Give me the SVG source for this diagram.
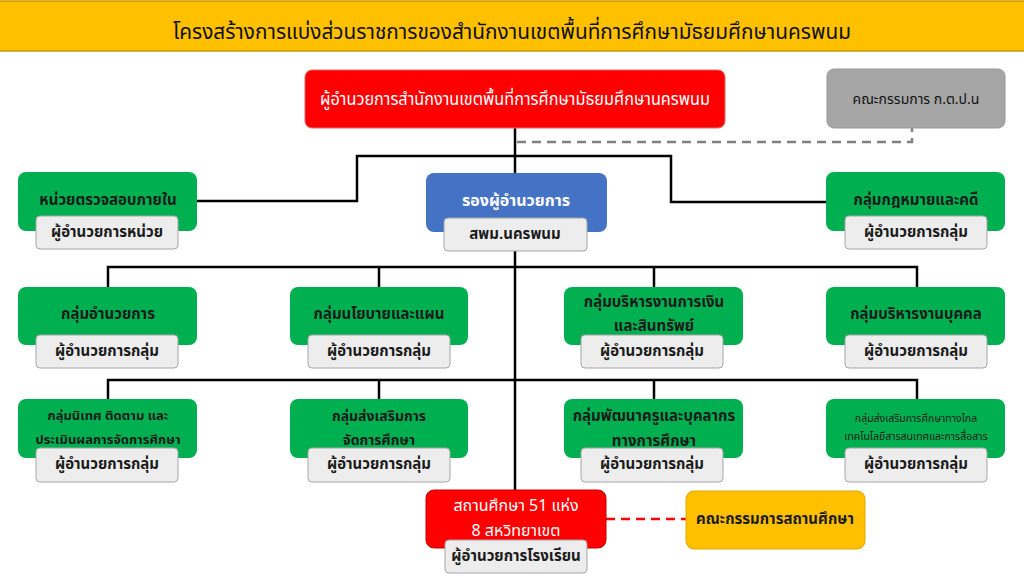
<svg xmlns="http://www.w3.org/2000/svg" width="1024" height="576" viewBox="0 0 1024 576">
<style>
text{font-family:"Noto Sans Thai","Tahoma","Noto Sans","DejaVu Sans",sans-serif;text-anchor:middle;dominant-baseline:central}
.g{fill:#00B050}
.sub{fill:#EDEDED;stroke:#A6A6A6;stroke-width:1}
.gt{fill:#1b1b1b;font-size:15px;font-weight:bold}
.st{fill:#1b1b1b;font-size:15px;font-weight:bold}
.wt{fill:#ffffff;font-size:16px;font-weight:bold}
.ln{stroke:#000;stroke-width:2.5;fill:none}
</style>
<rect width="1024" height="576" fill="#ffffff"/>
<g id="title">
<rect x="-1" y="1" width="1026" height="50" fill="#FFC000" stroke="#C99A00" stroke-width="1.5"/>
<text x="512" y="32" font-size="22" fill="#111" textLength="678" lengthAdjust="spacingAndGlyphs">โครงสร้างการแบ่งส่วนราชการของสำนักงานเขตพื้นที่การศึกษามัธยมศึกษานครพนม</text>
</g>
<g id="connectors">
<path class="ln" d="M515 128V490"/>
<path d="M517 142H912V128" stroke="#808080" stroke-width="2.5" fill="none" stroke-dasharray="9,6"/>
<path class="ln" d="M515 156H357V201H197"/>
<path class="ln" d="M515 156H671V202H827"/>
<path class="ln" d="M108 287V267H917V287M379 267V287M654 267V287"/>
<path class="ln" d="M108 399V380H917V399M379 380V399M654 380V399"/>
<path d="M606 519H686" stroke="#FF0000" stroke-width="2.5" fill="none" stroke-dasharray="9,6"/>
</g>
<g id="director">
<rect x="305" y="70" width="420" height="58" rx="7" fill="#FF0000" stroke="#E06666" stroke-width="1"/>
<text x="515" y="100" class="wt" style="font-weight:normal;font-size:17px" textLength="390" lengthAdjust="spacingAndGlyphs">ผู้อำนวยการสำนักงานเขตพื้นที่การศึกษามัธยมศึกษานครพนม</text>
</g>
<g id="board-ktpn">
<rect x="827" y="69" width="178" height="59" rx="7" fill="#A6A6A6" stroke="#999" stroke-width="1"/>
<text x="916" y="99" font-size="14" fill="#111">คณะกรรมการ ก.ต.ป.น</text>
</g>
<g id="audit">
<rect x="18" y="172" width="179" height="59" rx="8" class="g"/>
<text x="108" y="200" class="gt">หน่วยตรวจสอบภายใน</text>
<rect x="36" y="216" width="142" height="33" rx="4" class="sub"/>
<text x="107" y="232" class="st">ผู้อำนวยการหน่วย</text>
</g>
<g id="deputy">
<rect x="426" y="173" width="181" height="59" rx="8" fill="#4472C4"/>
<text x="516" y="201" class="wt">รองผู้อำนวยการ</text>
<rect x="444" y="218" width="143" height="33" rx="4" class="sub"/>
<text x="515" y="234" class="st">สพม.นครพนม</text>
</g>
<g id="legal">
<rect x="826" y="172" width="179" height="59" rx="8" class="g"/>
<text x="916" y="200" class="gt">กลุ่มกฎหมายและคดี</text>
<rect x="845" y="216" width="142" height="33" rx="4" class="sub"/>
<text x="916" y="232" class="st">ผู้อำนวยการกลุ่ม</text>
</g>
<g id="admin">
<rect x="18" y="287" width="179" height="58" rx="8" class="g"/>
<text x="108" y="314" class="gt">กลุ่มอำนวยการ</text>
<rect x="36" y="335" width="142" height="33" rx="4" class="sub"/>
<text x="107" y="351" class="st">ผู้อำนวยการกลุ่ม</text>
</g>
<g id="policy">
<rect x="290" y="287" width="178" height="58" rx="8" class="g"/>
<text x="379" y="314" class="gt">กลุ่มนโยบายและแผน</text>
<rect x="308" y="335" width="142" height="33" rx="4" class="sub"/>
<text x="379" y="351" class="st">ผู้อำนวยการกลุ่ม</text>
</g>
<g id="finance">
<rect x="564" y="287" width="179" height="58" rx="8" class="g"/>
<text x="654" y="302" class="gt">กลุ่มบริหารงานการเงิน</text>
<text x="654" y="326" class="gt">และสินทรัพย์</text>
<rect x="581" y="335" width="142" height="33" rx="4" class="sub"/>
<text x="652" y="351" class="st">ผู้อำนวยการกลุ่ม</text>
</g>
<g id="personnel">
<rect x="826" y="287" width="179" height="58" rx="8" class="g"/>
<text x="916" y="314" class="gt">กลุ่มบริหารงานบุคคล</text>
<rect x="845" y="335" width="142" height="33" rx="4" class="sub"/>
<text x="916" y="351" class="st">ผู้อำนวยการกลุ่ม</text>
</g>
<g id="supervision">
<rect x="18" y="399" width="179" height="59" rx="8" class="g"/>
<text x="108" y="416" class="gt" style="font-size:13px">กลุ่มนิเทศ ติดตาม และ</text>
<text x="108" y="440" class="gt" style="font-size:13px">ประเมินผลการจัดการศึกษา</text>
<rect x="36" y="448" width="142" height="34" rx="4" class="sub"/>
<text x="107" y="464" class="st">ผู้อำนวยการกลุ่ม</text>
</g>
<g id="promotion">
<rect x="290" y="399" width="178" height="59" rx="8" class="g"/>
<text x="379" y="416" class="gt" style="font-size:14px">กลุ่มส่งเสริมการ</text>
<text x="379" y="440" class="gt" style="font-size:14px">จัดการศึกษา</text>
<rect x="308" y="448" width="142" height="34" rx="4" class="sub"/>
<text x="379" y="464" class="st">ผู้อำนวยการกลุ่ม</text>
</g>
<g id="development">
<rect x="564" y="399" width="179" height="59" rx="8" class="g"/>
<text x="654" y="416" class="gt">กลุ่มพัฒนาครูและบุคลากร</text>
<text x="654" y="441" class="gt">ทางการศึกษา</text>
<rect x="581" y="448" width="142" height="34" rx="4" class="sub"/>
<text x="652" y="464" class="st">ผู้อำนวยการกลุ่ม</text>
</g>
<g id="distance">
<rect x="826" y="399" width="179" height="59" rx="8" class="g"/>
<text x="916" y="419" class="gt" style="font-size:10.5px;font-weight:normal">กลุ่มส่งเสริมการศึกษาทางไกล</text>
<text x="916" y="437" class="gt" style="font-size:10.5px;font-weight:normal">เทคโนโลยีสารสนเทศและการสื่อสาร</text>
<rect x="845" y="448" width="142" height="34" rx="4" class="sub"/>
<text x="916" y="464" class="st">ผู้อำนวยการกลุ่ม</text>
</g>
<g id="schools">
<rect x="426" y="490" width="180" height="58" rx="8" fill="#FF0000" stroke="#C00000" stroke-width="1"/>
<text x="516" y="506" class="wt" style="font-weight:normal">สถานศึกษา 51 แห่ง</text>
<text x="516" y="531" class="wt" style="font-weight:normal">8 สหวิทยาเขต</text>
<rect x="445" y="540" width="142" height="33" rx="4" class="sub"/>
<text x="516" y="556" class="st">ผู้อำนวยการโรงเรียน</text>
</g>
<g id="school-board">
<rect x="686" y="491" width="179" height="58" rx="8" fill="#FFC000" stroke="#E0A800" stroke-width="1"/>
<text x="775" y="519" font-size="15" font-weight="bold" fill="#1b1b1b">คณะกรรมการสถานศึกษา</text>
</g>
</svg>
